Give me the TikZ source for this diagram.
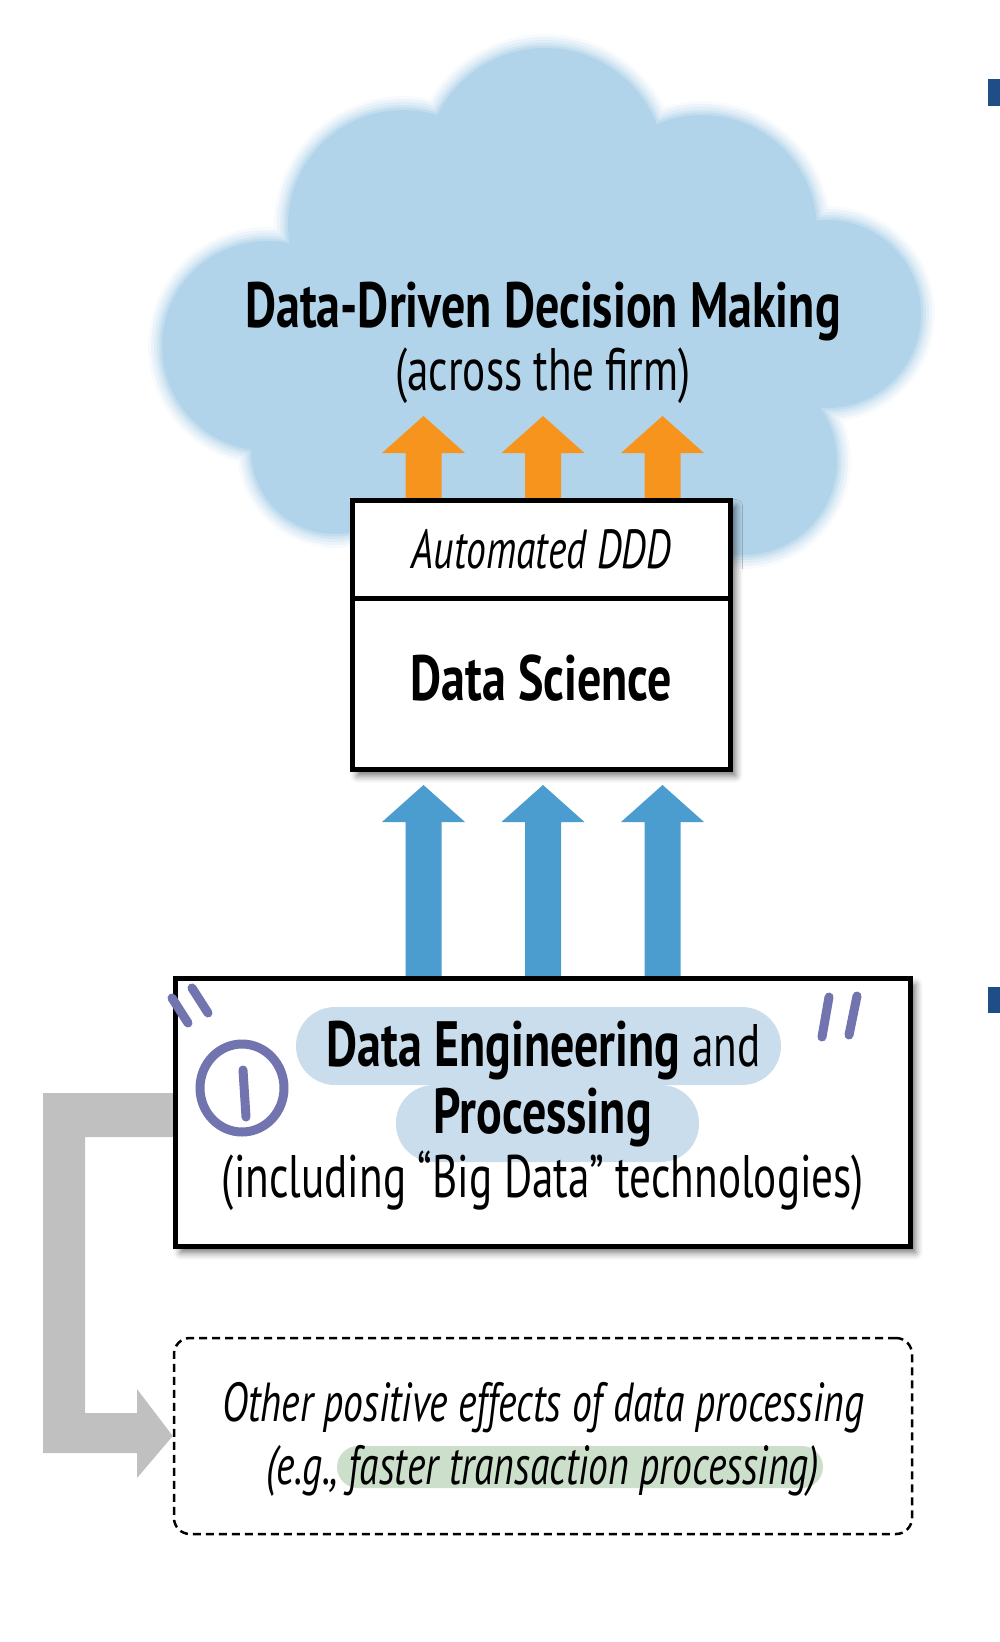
\documentclass[tikz,border=0pt]{standalone}
\usepackage{fontspec}
\setmainfont{PT Sans}[FakeStretch=0.72]
\newfontfamily\headfont{PT Sans}[FakeStretch=0.75]
\usetikzlibrary{calc,shadows.blur}
\pgfdeclarelayer{background}
\pgfsetlayers{background,main}
\definecolor{cloudc}{HTML}{B2D4EA}
\definecolor{orangec}{HTML}{F7941E}
\definecolor{bluec}{HTML}{4B9CCF}
\definecolor{pillc}{HTML}{CADDED}
\definecolor{greenc}{HTML}{CBDFCB}
\definecolor{penc}{HTML}{7174AE}
\definecolor{grayc}{HTML}{C0C0C0}
\definecolor{navyc}{HTML}{1F4E87}
\newcommand\cloudcircles{545/168/120, 403/225/115, 702/230/115, 827/314/94,
  743/461/94, 267/346/105, 335/450/84}
\newcommand\blockup[3]{%
  \fill[#3] let \p1=(#1), \p2=(#2) in
   (\x1-18pt,\y1) -- (\x1-18pt,\y2-37pt) -- (\x1-41.5pt,\y2-37pt) -- (\x1,\y2)
   -- (\x1+41.5pt,\y2-37pt) -- (\x1+18pt,\y2-37pt) -- (\x1+18pt,\y1) -- cycle;}
\begin{document}
\begin{tikzpicture}[x=1pt,y=-1pt,
  box/.style={draw, line width=5pt, fill=white, inner sep=0pt,
    blur shadow={shadow xshift=5pt, shadow yshift=-6pt, shadow blur radius=7pt, shadow opacity=55}},
  txt/.style={anchor=base, inner sep=0pt},
  big/.style={font=\fontsize{60}{72}\selectfont},
  bigb/.style={font=\headfont\bfseries\fontsize{64}{76}\selectfont},
  bigi/.style={font=\itshape\fontsize{55}{66}\selectfont},
  pen/.style={penc, line width=9pt, line cap=round},
]
\useasboundingbox (0,0) rectangle (1000,1642);
% boxes
\node[box, minimum width=378pt, minimum height=269pt] (ds) at (541.5,635) {};
\draw[line width=5pt] ($(ds.north west)+(0,100)$) -- ($(ds.north east)+(0,100)$);
\node[box, minimum width=735pt, minimum height=268pt] (de) at (543,1112.5) {};
\node[draw, line width=2.5pt, dash pattern=on 8pt off 5pt, rounded corners=16pt,
  minimum width=738pt, minimum height=196pt, inner sep=0pt] (ob) at (543,1436) {};
% tips
\coordinate (ot1) at (423.5,416); \coordinate (ot2) at (543,416); \coordinate (ot3) at (662.5,416);
\coordinate (bt1) at (423.5,785); \coordinate (bt2) at (543,785); \coordinate (bt3) at (662.5,785);
\begin{pgfonlayer}{background}
  \foreach \w/\c in {28/10, 22/25, 16/42, 10/60, 5/80}{
    \foreach \cx/\cy/\r in \cloudcircles {\draw[cloudc!\c!white, line width=\w pt] (\cx,\cy) circle[radius=\r];}
  }
  \foreach \cx/\cy/\r in \cloudcircles {\fill[cloudc] (\cx,\cy) circle[radius=\r];}
  \fill[cloudc] (300,200) rectangle (800,520);
  \blockup{ot1 |- ds.north}{ot1}{orangec}
  \blockup{ot2 |- ds.north}{ot2}{orangec}
  \blockup{ot3 |- ds.north}{ot3}{orangec}
  \blockup{bt1 |- de.north}{bt1}{bluec}
  \blockup{bt2 |- de.north}{bt2}{bluec}
  \blockup{bt3 |- de.north}{bt3}{bluec}
  \fill[grayc] (190,1093) -- (43,1093) -- (43,1453) -- (137,1453) -- (137,1478) -- (ob.west)
    -- (137,1389) -- (137,1413) -- (85,1413) -- (85,1137) -- (190,1137) -- cycle;
\end{pgfonlayer}
% cloud text
\node[txt, bigb] (title) at (543,327) {Data-Driven Decision Making};
\node[txt, big] (firm) at (543,390) {(across the firm)};
% data science box text
\node[txt, bigi] (auto) at (541.5,568) {Automated DDD};
\node[txt, bigb] (dsc) at (541.5,700) {Data Science};
% data engineering box
\fill[pillc, rounded corners=39pt] (296,1007) rectangle (781,1085);
\fill[pillc, rounded corners=38pt] (396,1085) rectangle (699,1162);
\node[txt, big] (de1) at (543.5,1066) {{\headfont\bfseries\fontsize{64}{76}\selectfont Data Engineering} and};
\node[txt, bigb] (de2) at (542.5,1133) {Processing};
\node[txt, big] (de3) at (543,1197) {(including “Big Data” technologies)};
% annotations
\draw[pen] (172,998) -- (188,1023);
\draw[pen] (192,988) -- (208,1013);
\draw[pen] (829,997) -- (822,1037);
\draw[pen] (857,996) -- (849,1035);
\draw[pen] (242,1088) ellipse[x radius=42, y radius=44];
\draw[pen] (243,1070) -- (246,1117);
% other effects box
\fill[greenc, rounded corners=21pt] (337,1446) rectangle (823,1488);
\node[txt, bigi] (oe1) at (543.5,1421) {Other positive effects of data processing};
\node[txt, bigi] (oe2) at (543,1484) {(e.g., faster transaction processing)};
% edge marks
\fill[navyc] (988,79) rectangle (1000,106);
\fill[navyc] (988,987) rectangle (1000,1013);
\end{tikzpicture}
\end{document}
